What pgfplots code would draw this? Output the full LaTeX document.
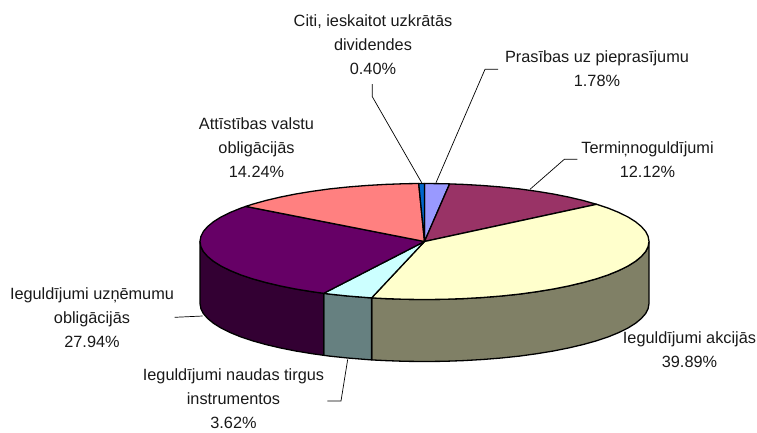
\documentclass[border=0pt]{standalone}
\usepackage{fontspec}
\setmainfont{Liberation Sans}
\usepackage{pgfplots}
\pgfplotsset{compat=1.18}
\definecolor{cBlue}{HTML}{9999FF}
\definecolor{cPlum}{HTML}{993366}
\definecolor{cCream}{HTML}{FFFFCC}
\definecolor{cCyan}{HTML}{CCFFFF}
\definecolor{cPurple}{HTML}{660066}
\definecolor{cSalmon}{HTML}{FF8080}
\definecolor{cDeep}{HTML}{0066CC}
\definecolor{sCream}{HTML}{808066}
\definecolor{sCyan}{HTML}{668080}
\definecolor{sPurple}{HTML}{330033}
\tikzset{
  edge/.style={draw=black,line width=1.3pt,line join=round},
  lead/.style={draw=black,line width=0.7pt},
  lab/.style={align=center,inner sep=0pt,text=black!90,font=\fontsize{16.3}{24}\selectfont},
}
\begin{document}
\begin{tikzpicture}
\begin{axis}[
  width=757pt,height=432pt,scale only axis,
  xmin=0,xmax=757,ymin=0,ymax=432,y dir=reverse,
  hide axis,clip=false,no marks,
]
\addplot[draw=none] coordinates {(0,0)(757,432)};
% side faces
\addplot[edge,fill=sCream] coordinates {
(649.0,241.5)(648.1,246.6)(645.6,251.6)(641.3,256.5)(635.5,261.3)(628.0,266.0)(618.9,270.5)(608.4,274.8)(596.5,278.8)(583.2,282.5)(568.8,285.9)(553.3,289.0)(536.8,291.7)(519.4,294.1)(501.3,296.0)(482.6,297.5)(463.5,298.6)(444.1,299.3)(424.5,299.5)(404.9,299.3)(385.5,298.6)(371.6,297.9)
(371.6,359.9)(385.5,360.6)(404.9,361.3)(424.5,361.5)(444.1,361.3)(463.5,360.6)(482.6,359.5)(501.3,358.0)(519.4,356.1)(536.8,353.7)(553.3,351.0)(568.8,347.9)(583.2,344.5)(596.5,340.8)(608.4,336.8)(618.9,332.5)(628.0,328.0)(635.5,323.3)(641.3,318.5)(645.6,313.6)(648.1,308.6)(649.0,303.5)
} --cycle;
\addplot[edge,fill=sCyan] coordinates {
(371.6,297.9)(366.4,297.5)(347.7,296.0)(329.6,294.1)(323.7,293.3)
(323.7,355.3)(329.6,356.1)(347.7,358.0)(366.4,359.5)(371.6,359.9)
} --cycle;
\addplot[edge,fill=sPurple] coordinates {
(323.7,293.3)(312.2,291.7)(295.7,289.0)(280.2,285.9)(265.8,282.5)(252.5,278.8)(240.6,274.8)(230.1,270.5)(221.0,266.0)(213.5,261.3)(207.7,256.5)(203.4,251.6)(200.9,246.6)(200.0,241.5)
(200.0,303.5)(200.9,308.6)(203.4,313.6)(207.7,318.5)(213.5,323.3)(221.0,328.0)(230.1,332.5)(240.6,336.8)(252.5,340.8)(265.8,344.5)(280.2,347.9)(295.7,351.0)(312.2,353.7)(323.7,355.3)
} --cycle;
% top faces
\addplot[edge,fill=cBlue] coordinates {
(424.5,241.5)(424.5,183.5)(444.1,183.7)(449.6,183.9)
} --cycle;
\addplot[edge,fill=cPlum] coordinates {
(424.5,241.5)(449.6,183.9)(463.5,184.4)(482.6,185.5)(501.3,187.0)(519.4,188.9)(536.8,191.3)(553.3,194.0)(568.8,197.1)(583.2,200.5)(596.6,204.3)
} --cycle;
\addplot[edge,fill=cCream] coordinates {
(424.5,241.5)(596.6,204.3)(608.4,208.2)(618.9,212.5)(628.0,217.0)(635.5,221.7)(641.3,226.5)(645.6,231.4)(648.1,236.4)(649.0,241.5)(648.1,246.6)(645.6,251.6)(641.3,256.5)(635.5,261.3)(628.0,266.0)(618.9,270.5)(608.4,274.8)(596.5,278.8)(583.2,282.5)(568.8,285.9)(553.3,289.0)(536.8,291.7)(519.4,294.1)(501.3,296.0)(482.6,297.5)(463.5,298.6)(444.1,299.3)(424.5,299.5)(404.9,299.3)(385.5,298.6)(371.6,297.9)
} --cycle;
\addplot[edge,fill=cCyan] coordinates {
(424.5,241.5)(371.6,297.9)(366.4,297.5)(347.7,296.0)(329.6,294.1)(323.7,293.3)
} --cycle;
\addplot[edge,fill=cPurple] coordinates {
(424.5,241.5)(323.7,293.3)(312.2,291.7)(295.7,289.0)(280.2,285.9)(265.8,282.5)(252.5,278.8)(240.6,274.8)(230.1,270.5)(221.0,266.0)(213.5,261.3)(207.7,256.5)(203.4,251.6)(200.9,246.6)(200.0,241.5)(200.9,236.4)(203.4,231.4)(207.7,226.5)(213.5,221.7)(221.0,217.0)(230.1,212.5)(240.6,208.2)(245.8,206.4)
} --cycle;
\addplot[edge,fill=cSalmon] coordinates {
(424.5,241.5)(245.8,206.4)(252.5,204.2)(265.8,200.5)(280.2,197.1)(295.7,194.0)(312.2,191.3)(329.6,188.9)(347.7,187.0)(366.4,185.5)(385.5,184.4)(404.9,183.7)(418.7,183.5)
} --cycle;
\addplot[edge,fill=cDeep] coordinates {
(424.5,241.5)(418.7,183.5)(424.5,183.5)
} --cycle;
% leader lines
\addplot[lead] coordinates {(372.3,84)(372.3,96.7)(421.7,182.7)};
\addplot[lead] coordinates {(498,69.3)(485,69.3)(436,182.7)};
\addplot[lead] coordinates {(577.3,159.3)(564.3,159.3)(530,189.3)};
\addplot[lead] coordinates {(174.7,317.3)(202.7,316)};
\addplot[lead] coordinates {(327.3,401)(341,401)(347.7,359.3)};
% labels
\node[lab,anchor=center] at (axis cs:373,45) {Citi, ieskaitot uzkrātās\\dividendes\\0.40\%};
\node[lab,anchor=center] at (axis cs:597,68.5) {Prasības uz pieprasījumu\\1.78\%};
\node[lab,anchor=center] at (axis cs:647.5,159.5) {Termiņnoguldījumi\\12.12\%};
\node[lab,anchor=center] at (axis cs:256.5,148) {Attīstības valstu\\obligācijās\\14.24\%};
\node[lab,anchor=center] at (axis cs:92,318) {Ieguldījumi uzņēmumu\\obligācijās\\27.94\%};
\node[lab,anchor=center] at (axis cs:233.5,399) {Ieguldījumi naudas tirgus\\instrumentos\\3.62\%};
\node[lab,anchor=center] at (axis cs:689.5,350) {Ieguldījumi akcijās\\39.89\%};
\end{axis}
\end{tikzpicture}
\end{document}
